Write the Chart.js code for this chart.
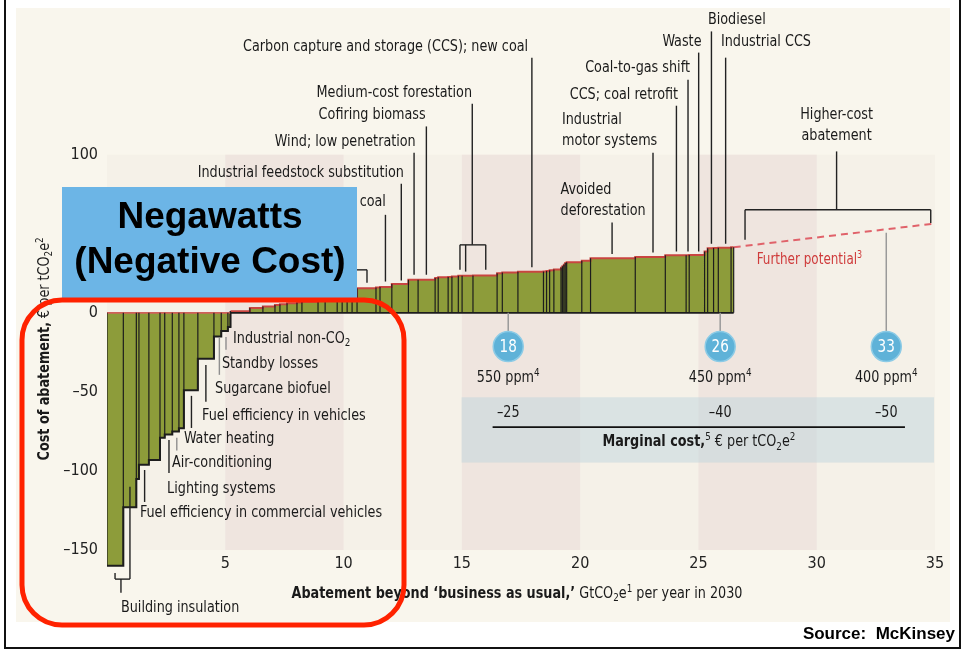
<!DOCTYPE html>
<html>
<head>
<meta charset="utf-8">
<script src="https://cdn.jsdelivr.net/npm/chart.js@4.4.1/dist/chart.umd.min.js"></script>
<style>
  html, body { margin: 0; padding: 0; background: #fff; }
  #chart { display: block; }
</style>
</head>
<body>
<canvas id="chart" width="964" height="652"></canvas>
<script>
// Abatement measures, left to right: width = GtCO2e per year, cost = € per tCO2e
const widths = [0.69,0.55,0.11,0.42,0.47,0.20,0.32,0.28,0.21,0.59,0.68,0.31,0.28,0.11,
    0.82,0.55,0.51,0.21,0.30,0.42,0.21,0.68,0.30,0.51,0.21,0.21,0.21,0.21,
    0.80,0.17,0.50,0.70,0.41,0.72,0.13,0.42,0.16,0.27,0.16,0.46,1.02,0.22,0.66,1.08,0.13,0.13,0.18,0.30,
    0.06,0.06,0.06,0.06,0.64,0.37,1.89,1.27,0.88,0.13,0.65,0.13,0.25,0.20,0.54,0.11];
const costs = [-160,-123,-105,-96,-93,-79,-77,-75,-73,-49,-29,-15,-11.5,-9,
    1,3,4,5,5.5,6,6.5,7,7.5,8,8.5,9,9.5,10,
    15.6,16,16.4,18.2,20.9,21,22,22.5,22.6,23,23.5,23.5,23.6,25,25.5,26,26.2,26.5,27,27.5,
    28.5,29.5,30.5,31.5,32,33,34.5,35.3,36.5,36.5,36.6,38.8,40.8,41,41.2,41.5];

const xTicks = [5, 10, 15, 20, 25, 30, 35];
const yTicks = [100, 0, -50, -100, -150];
const shadedBands = [[5, 10], [15, 20], [25, 30]];

// further potential beyond the curve
const furtherPotential = [{x: 26.49, y: 41.5}, {x: 35, y: 56.5}];

// concentration targets
const targetGt = ['18', '26', '33'];
const targetX = [16.96, 25.92, 32.94];
const targetPpm = ['550 ppm^4', '450 ppm^4', '400 ppm^4'];
const targetCost = ['–25', '–40', '–50'];
const targetStemTop = [0, 0, 50.6];
const targetY = -21.3;

// measure names, anchored in axis units, with their leader lines
const costLabels = [
    {t: 'Industrial non-CO_2', x: 5.33, y: -16.5, gray: true, lines: [[5.03,-15.2,5.03,-23.4]]},
    {t: 'Standby losses', x: 4.86, y: -32.3, gray: true, lines: [[4.75,-15.8,4.75,-39.2]]},
    {t: 'Sugarcane biofuel', x: 4.57, y: -48.1, lines: [[4.18,-32.9,4.18,-56.3]]},
    {t: 'Fuel efficiency in vehicles', x: 4.02, y: -65.2, lines: [[3.57,-52.5,3.57,-72.8]]},
    {t: 'Water heating', x: 3.25, y: -79.7, gray: true, lines: [[2.95,-79,2.95,-87]]},
    {t: 'Air-conditioning', x: 2.75, y: -94.9, lines: [[2.62,-80.4,2.62,-101.3]]},
    {t: 'Lighting systems', x: 2.54, y: -111.4, lines: [[1.59,-99.4,1.59,-119.6]]},
    {t: 'Fuel efficiency in commercial vehicles', x: 1.39, y: -126.6, lines: [[0.97,-110,0.97,-168.4]]},
    {t: 'Building insulation', x: 0.59, y: -186.7, lines: [[0.34,-164.6,0.34,-168.4],[0.34,-168.4,0.97,-168.4],[0.59,-168.4,0.59,-177]]},
    {t: 'Carbon capture and storage (CCS); new coal', x: 17.80, y: 168.5, a: 'right', lines: [[17.96,161.4,17.96,28.9]]},
    {t: 'Medium-cost forestation', x: 15.43, y: 139.1, a: 'right', lines: [[15.44,132.3,15.44,43],[14.92,43,16.01,43],[14.92,43,14.92,27.2],[15.16,43,15.16,26.1],[16.01,43,16.01,27.2]]},
    {t: 'Cofiring biomass', x: 13.47, y: 125.3, a: 'right', lines: [[13.50,117.9,13.50,24.1]]},
    {t: 'Wind; low penetration', x: 13.05, y: 108.4, a: 'right', lines: [[12.98,101.3,12.98,24.1]]},
    {t: 'Industrial feedstock substitution', x: 12.55, y: 88.8, a: 'right', lines: [[12.44,81.6,12.44,20.4]]},
    {t: 'coal', x: 11.79, y: 70.4, a: 'right', lines: [[11.77,62,11.77,19.8]]},
    {t: '', x: 0, y: 0, lines: [[9.85,27.2,10.99,27.2],[10.99,27.2,10.99,19]]},
    {t: 'Avoided\ndeforestation', x: 19.17, y: 77.8, lines: [[21.35,57.2,21.35,37.3]]},
    {t: 'Industrial\nmotor systems', x: 19.23, y: 122.2, lines: [[23.08,101.3,23.08,38.2]]},
    {t: 'CCS; coal retrofit', x: 24.14, y: 138.0, a: 'right', lines: [[24.07,131,24.07,38.8]]},
    {t: 'Coal-to-gas shift', x: 24.64, y: 154.9, a: 'right', lines: [[24.56,147.5,24.56,38.8]]},
    {t: 'Waste', x: 25.13, y: 171.1, a: 'right', lines: [[25.01,164.6,25.01,38.8]]},
    {t: 'Biodiesel', x: 25.40, y: 185.4, lines: [[25.55,178,25.55,43.7]]},
    {t: 'Industrial CCS', x: 25.95, y: 171.1, lines: [[26.15,161.4,26.15,43.7]]},
    {t: 'Higher-cost\nabatement', x: 30.84, y: 125.3, a: 'center', lines: [[30.84,102.1,30.84,65.2],[26.97,65.2,34.82,65.2],[26.97,65.2,26.97,46.2],[34.82,65.2,34.82,56.8]]}
];

// pick a narrow face and squeeze to the printed width if needed
function hasFont(name) {
    const c = document.createElement('canvas').getContext('2d');
    const s = 'abcdefghijklmnopqrstuvwxyz0123456789';
    c.font = '40px monospace';
    const a = c.measureText(s).width;
    c.font = '40px "' + name + '", monospace';
    return c.measureText(s).width !== a;
}
var FAM = 'Liberation Sans';
if (hasFont('Liberation Sans Narrow')) FAM = 'Liberation Sans Narrow';
else if (hasFont('DejaVu Sans Condensed')) FAM = 'DejaVu Sans Condensed';
var SQ = (function () {
    const c = document.createElement('canvas').getContext('2d');
    c.font = '16px "' + FAM + '"';
    return Math.min(1.1, 285 / c.measureText('Carbon capture and storage (CCS); new coal').width);
})();

// tiny markup: *bold*, _x subscript, ^x superscript
function parseRich(s) {
    const parts = [];
    let bold = false, buf = '';
    const push = (t, m) => { if (t) parts.push({t: t, b: bold, m: m}); };
    for (let i = 0; i < s.length; i++) {
        const ch = s[i];
        if (ch === '*') { push(buf, 0); buf = ''; bold = !bold; }
        else if (ch === '_' || ch === '^') { push(buf, 0); buf = ''; push(s[i + 1], ch === '_' ? 1 : 2); i++; }
        else buf += ch;
    }
    push(buf, 0);
    return parts;
}

function drawRich(ctx, s, x, y, o) {
    o = o || {};
    const size = o.size || 16, fam = o.fam || FAM, sq = o.sq || SQ;
    const parts = parseRich(s);
    const fontOf = p => (p.b ? 'bold ' : '') + (p.m ? Math.round(size * 0.68) : size) + 'px "' + fam + '"';
    let w = 0;
    parts.forEach(p => { ctx.font = fontOf(p); p.w = ctx.measureText(p.t).width; w += p.w; });
    ctx.save();
    ctx.translate(x, y);
    if (o.rot) ctx.rotate(o.rot);
    ctx.scale(sq, 1);
    let cx = o.align === 'right' ? -w : o.align === 'center' ? -w / 2 : 0;
    ctx.fillStyle = o.color || '#1a1a1a';
    ctx.textBaseline = 'middle';
    ctx.textAlign = 'left';
    parts.forEach(p => {
        ctx.font = fontOf(p);
        const dy = p.m === 1 ? size * 0.28 : p.m === 2 ? -size * 0.32 : 0;
        ctx.fillText(p.t, cx, dy);
        cx += p.w;
    });
    ctx.restore();
}

function line(ctx, x0, y0, x1, y1) {
    ctx.beginPath();
    ctx.moveTo(x0, y0);
    ctx.lineTo(x1, y1);
    ctx.stroke();
}

// build step outline and separators from the arrays
const starts = [];
var total = 0;
widths.forEach(w => { starts.push(total); total += w; });
const stepData = costs.map((c, i) => ({x: starts[i], y: c}));
stepData.push({x: total, y: costs[costs.length - 1]});

const sepData = [];
for (let j = 0; j <= costs.length; j++) {
    const a = j > 0 ? costs[j - 1] : 0, b = j < costs.length ? costs[j] : 0;
    const bx = j < costs.length ? starts[j] : total;
    sepData.push({x: bx, y: Math.min(0, a, b)}, {x: bx, y: Math.max(0, a, b)}, {x: bx, y: null});
}
const negEnd = starts[costs.findIndex(c => c > 0)];
const baseData = [{x: 0, y: 0}, {x: negEnd, y: 0}, {x: total, y: 0}];

const stemData = [];
targetX.forEach((x, i) => { stemData.push({x: x, y: targetStemTop[i]}, {x: x, y: targetY}, {x: x, y: null}); });

const backdrop = {
    id: 'backdrop',
    beforeDraw(chart) {
        const {ctx, scales: {x, y}} = chart;
        const X = v => x.getPixelForValue(v), Y = v => y.getPixelForValue(v);
        ctx.save();
        ctx.fillStyle = '#fff';
        ctx.fillRect(0, 0, chart.width, chart.height);
        ctx.fillStyle = '#f9f6ed';
        ctx.fillRect(16, 8, 934, 614);
        const t = Y(100), b = Y(-150);
        ctx.fillStyle = '#f5f1e8';
        ctx.fillRect(X(0), t, X(35) - X(0), b - t);
        ctx.fillStyle = '#efe5df';
        shadedBands.forEach(([a, c]) => ctx.fillRect(X(a), t, X(c) - X(a), b - t));
        // marginal cost panel
        ctx.fillStyle = 'rgba(192,214,222,0.5)';
        ctx.fillRect(X(14.99), Y(-53.4), X(34.96) - X(14.99), Y(-94.7) - Y(-53.4));
        ctx.restore();
    }
};

const notes = {
    id: 'notes',
    afterDraw(chart) {
        const {ctx, scales: {x, y}} = chart;
        const X = v => x.getPixelForValue(v), Y = v => y.getPixelForValue(v);
        ctx.save();
        ctx.lineWidth = 1.4;

        costLabels.forEach(L => {
            ctx.strokeStyle = L.gray ? '#8f8f8f' : '#222';
            L.lines.forEach(s => line(ctx, X(s[0]), Y(s[1]), X(s[2]), Y(s[3])));
            if (L.t) L.t.split('\n').forEach((txt, i) => drawRich(ctx, txt, X(L.x), Y(L.y) + i * 21, {align: L.a || 'left'}));
        });

        drawRich(ctx, 'Further potential^3', X(27.46), Y(33.5), {size: 15, color: '#cf3b3b'});

        // targets
        targetX.forEach((tx, i) => {
            drawRich(ctx, targetGt[i], X(tx), Y(targetY) + 1, {align: 'center', size: 17, color: '#fff'});
            drawRich(ctx, targetPpm[i], X(tx), Y(-41.3), {align: 'center'});
            drawRich(ctx, targetCost[i], X(tx), Y(-63.5), {align: 'center'});
        });
        ctx.strokeStyle = '#111';
        ctx.lineWidth = 1.6;
        line(ctx, X(16.30), Y(-72.3), X(33.73), Y(-72.3));
        drawRich(ctx, '*Marginal cost,*^5 € per tCO_2e^2', X(25.02), Y(-81.8), {align: 'center'});

        // axis titles
        drawRich(ctx, '*Abatement beyond ‘business as usual,’* GtCO_2e^1 per year in 2030', X(17.33), Y(-177.8), {align: 'center'});
        drawRich(ctx, '*Cost of abatement,* € per tCO_2e^2', X(-2.62), Y(-22.8), {align: 'center', rot: -Math.PI / 2});

        // callout box
        ctx.fillStyle = '#6cb5e6';
        ctx.fillRect(62, 187, 295, 113);
        ctx.fillStyle = '#000';
        ctx.font = 'bold 37px "Liberation Sans", Arial, sans-serif';
        ctx.textAlign = 'center';
        ctx.textBaseline = 'middle';
        ctx.fillText('Negawatts', 210, 218);
        ctx.fillText('(Negative Cost)', 210, 263);

        // red highlight around the negative costs
        const rx = 22, ry = 300, rw = 382, rh = 325, r = 40;
        ctx.strokeStyle = '#ff2200';
        ctx.lineWidth = 5;
        ctx.beginPath();
        ctx.moveTo(rx + r, ry);
        ctx.arcTo(rx + rw, ry, rx + rw, ry + rh, r);
        ctx.arcTo(rx + rw, ry + rh, rx, ry + rh, r);
        ctx.arcTo(rx, ry + rh, rx, ry, r);
        ctx.arcTo(rx, ry, rx + rw, ry, r);
        ctx.closePath();
        ctx.stroke();

        ctx.fillStyle = '#000';
        ctx.font = 'bold 17px "Liberation Sans", Arial, sans-serif';
        ctx.textAlign = 'right';
        ctx.fillText('Source:  McKinsey', 955, 634);

        // frame
        ctx.strokeStyle = '#111';
        ctx.lineWidth = 2;
        ctx.beginPath();
        ctx.moveTo(5, 0);
        ctx.lineTo(5, 648);
        ctx.lineTo(960, 648);
        ctx.lineTo(960, 0);
        ctx.stroke();
        ctx.restore();
    }
};

const canvas = document.getElementById('chart');
var myChart = new Chart(canvas.getContext('2d'), {
    type: 'line',
    data: {
        datasets: [
            {   // concentration target circles
                type: 'scatter',
                data: targetX.map(x => ({x: x, y: targetY})),
                pointRadius: 15,
                pointBackgroundColor: '#5fb2d8',
                pointBorderColor: '#8ccbe6',
                pointBorderWidth: 1.5,
                showLine: false,
                order: 0
            },
            {
                data: stemData,
                borderColor: '#9a9a9a',
                borderWidth: 1.5,
                pointRadius: 0,
                spanGaps: false,
                order: 1
            },
            {
                data: sepData,
                borderColor: '#1d1d1d',
                borderWidth: 1.2,
                pointRadius: 0,
                spanGaps: false,
                order: 2
            },
            {
                data: baseData,
                borderWidth: 1.6,
                pointRadius: 0,
                borderColor: '#1d1d1d',
                segment: { borderColor: c => c.p0.parsed.x < negEnd ? '#d0605a' : '#1d1d1d' },
                order: 3
            },
            {   // cost curve
                data: stepData,
                stepped: true,
                fill: 'origin',
                backgroundColor: '#8d9c3a',
                borderColor: '#c94540',
                borderWidth: 2,
                segment: { borderColor: c => c.p0.parsed.y < 0 ? '#1d1d1d' : '#c94540' },
                pointRadius: 0,
                order: 4
            },
            {
                data: furtherPotential,
                borderColor: '#e0626a',
                borderWidth: 2,
                borderDash: [7, 5],
                pointRadius: 0,
                order: 5
            }
        ]
    },
    options: {
        responsive: false,
        animation: false,
        devicePixelRatio: 1,
        events: [],
        layout: { padding: { top: 150, right: 29, bottom: 55, left: 0 } },
        plugins: { legend: { display: false }, tooltip: { enabled: false } },
        scales: {
            x: {
                type: 'linear', min: 0, max: 35,
                grid: { display: false, drawTicks: false },
                border: { display: false },
                // labels sit just under the shaded panel, above the deepest bar
                ticks: { font: { family: FAM, size: 16 }, color: '#222', mirror: true, padding: -4, maxRotation: 0 },
                afterBuildTicks: s => { s.ticks = xTicks.map(v => ({value: v})); },
                afterFit: s => { s.height = 28; }
            },
            y: {
                type: 'linear', min: -162, max: 103,
                grid: { display: false, drawTicks: false },
                border: { display: false },
                ticks: {
                    font: { family: FAM, size: 16 }, color: '#222', padding: 9,
                    callback: v => v < 0 ? '–' + Math.abs(v) : String(v)
                },
                afterBuildTicks: s => { s.ticks = yTicks.map(v => ({value: v})); },
                afterFit: s => { s.width = 107; }
            }
        }
    },
    plugins: [backdrop, notes]
});
</script>
</body>
</html>
